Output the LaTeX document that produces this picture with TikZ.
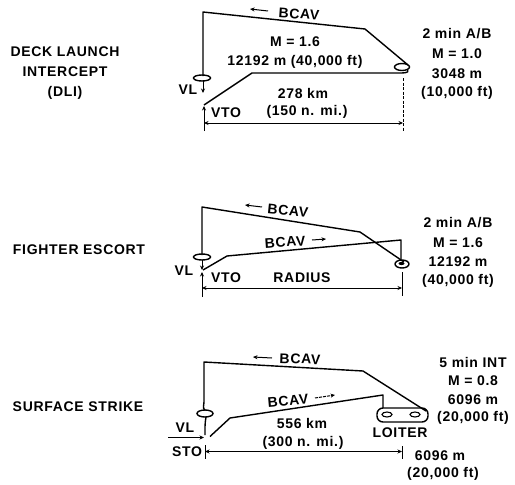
\documentclass[tikz,border=0pt]{standalone}
\usepackage{fontspec}
\setmainfont{Liberation Sans}[LetterSpace=5]
\usetikzlibrary{arrows.meta,shapes.geometric}
\tikzset{
  path/.style={line width=1.4pt, line join=round},
  thin/.style={line width=1pt},
  lbl/.style={font=\bfseries\fontsize{14}{20}\selectfont, inner sep=0pt},
  arr/.style={line width=1pt, -{Stealth[length=4.5pt,width=4pt]}},
  dim/.style={line width=1pt, {Stealth[length=4.5pt,width=4pt]}-{Stealth[length=4.5pt,width=4pt]}},
  loopy/.style={line width=1.4pt}
}
\begin{document}
\begin{tikzpicture}[x=1pt,y=-1pt]
\useasboundingbox (0,0) rectangle (515,485);
% ---------------- Panel 1 : DLI ----------------
\node[lbl, align=center] (t1) at (65,73) {DECK LAUNCH\\INTERCEPT\\(DLI)};
\coordinate (a1) at (203,12);
\coordinate (a2) at (365,29);
\coordinate (a3) at (408,65);
\coordinate (a4) at (204,105);
\coordinate (a5) at (252,73);
\coordinate (a6) at (399,73);
\node[draw, loopy, ellipse, minimum width=15pt, minimum height=7pt, inner sep=0pt] (r1) at (402,67) {};
\node[draw, loopy, ellipse, minimum width=17pt, minimum height=6pt, inner sep=0pt] (l1) at (202,78) {};
\draw[path] (203,76) -- (a1) -- (a2) -- (a3);
\draw[path] (a4) -- (a5) -- (a6) to[out=0,in=-60] (r1.south east);
\coordinate (vl1a) at (203,81);
\coordinate (vl1b) at (203,93);
\draw[arr] (vl1a) -- (vl1b);
\coordinate (vto1a) at (204,131);
\coordinate (vto1b) at (204,106);
\draw[arr] (vto1a) -- (vto1b);
\node[lbl] (vl1) at (188,90) {VL};
\node[lbl, anchor=west] (vto1) at (211,113) {VTO};
\coordinate (d1a) at (204,123);
\coordinate (d1b) at (403,123);
\draw[dim] (d1a) -- (d1b);
\coordinate (tk1a) at (403,78);
\coordinate (tk1b) at (403,131);
\draw[thin, dashed, dash pattern=on 3pt off 1.5pt] (tk1a) -- (tk1b);
\coordinate (b1a) at (268,11);
\coordinate (b1b) at (250,9);
\draw[arr] (b1a) -- (b1b);
\node[lbl, rotate=-4] (bc1) at (299,14) {BCAV};
\node[lbl] (m1) at (295,42) {M = 1.6};
\node[lbl] (h1) at (295,62) {12192 m (40,000 ft)};
\node[lbl] (k1) at (303,93) {278 km};
\node[lbl] (n1) at (307,112) {(150 n. mi.)};
\node[lbl] (q1) at (457,34) {2 min A/B};
\node[lbl] (q2) at (457,54) {M = 1.0};
\node[lbl] (q3) at (457,74) {3048 m};
\node[lbl] (q4) at (457,93) {(10,000 ft)};
% ---------------- Panel 2 : Fighter escort ----------------
\node[lbl] (t2) at (79,250) {FIGHTER ESCORT};
\coordinate (c1) at (202,207);
\coordinate (c2) at (360,232);
\coordinate (c3) at (404,262);
\coordinate (c4) at (203,270);
\coordinate (c5) at (227,256);
\coordinate (c6) at (401,240);
\coordinate (c7) at (401,259);
\node[draw, loopy, ellipse, minimum width=14pt, minimum height=8pt, inner sep=0pt] (r2) at (402,264) {};
\fill (401.5,263.5) ellipse [x radius=3pt, y radius=1.6pt];
\node[draw, loopy, ellipse, minimum width=17pt, minimum height=6pt, inner sep=0pt] (l2) at (202,257) {};
\draw[path] (202,255) -- (c1) -- (c2) -- (c3);
\draw[path] (c4) -- (c5) -- (c6) -- (c7);
\coordinate (vl2a) at (202,260);
\coordinate (vl2b) at (202,270);
\draw[arr] (vl2a) -- (vl2b);
\coordinate (vto2a) at (202,297);
\coordinate (vto2b) at (202,272);
\draw[arr] (vto2a) -- (vto2b);
\node[lbl] (vl2) at (184,271) {VL};
\node[lbl, anchor=west] (vto2) at (211,278) {VTO};
\node[lbl] (rad) at (302,278) {RADIUS};
\coordinate (d2a) at (202,288);
\coordinate (d2b) at (402,288);
\draw[dim] (d2a) -- (d2b);
\coordinate (tk2a) at (402,272);
\coordinate (tk2b) at (402,296);
\draw[thin] (tk2a) -- (tk2b);
\coordinate (b2a) at (262,207);
\coordinate (b2b) at (245,205);
\draw[arr] (b2a) -- (b2b);
\node[lbl, rotate=-6] (bc2) at (288,211) {BCAV};
\node[lbl, rotate=4] (bc3) at (285,242) {BCAV};
\coordinate (b3a) at (312,240);
\coordinate (b3b) at (326,239);
\draw[arr] (b3a) -- (b3b);
\node[lbl] (s1) at (458,223) {2 min A/B};
\node[lbl] (s2) at (458,243) {M = 1.6};
\node[lbl] (s3) at (458,262) {12192 m};
\node[lbl] (s4) at (458,281) {(40,000 ft)};
% ---------------- Panel 3 : Surface strike ----------------
\node[lbl] (t3) at (78,407) {SURFACE STRIKE};
\coordinate (e1) at (204,362);
\coordinate (e2) at (363,371);
\coordinate (e3) at (426,411);
\coordinate (e4) at (210,436.5);
\coordinate (e5) at (230,418);
\coordinate (e6) at (383,395);
\coordinate (e7) at (383,408);
\draw[loopy, rounded corners=6pt] (377,408) rectangle (428,422);
\node[draw, line width=1.1pt, ellipse, minimum width=10pt, minimum height=5pt, inner sep=0pt] (lo1) at (387,414.5) {};
\node[draw, line width=1.1pt, ellipse, minimum width=10pt, minimum height=5pt, inner sep=0pt] (lo2) at (415,414.5) {};
\node[draw, loopy, ellipse, minimum width=16pt, minimum height=7pt, inner sep=0pt] (l3) at (205,413.5) {};
\draw[path] (205,410) to[out=150,in=-90] (204,402) -- (e1) -- (e2) -- (e3);
\draw[path] (e4) -- (e5) -- (e6) -- (e7);
\coordinate (vl3c) at (205,435);
\draw[path] (206,417) to[out=-100,in=90] (vl3c);
\coordinate (vl3a) at (168,437.5);
\coordinate (vl3b) at (204,437.5);
\draw[arr] (vl3a) -- (vl3b);
\node[lbl] (vl3) at (185,428) {VL};
\node[lbl] (sto) at (187,452) {STO};
\coordinate (d3a) at (205,451.5);
\coordinate (d3b) at (402,451.5);
\draw[dim] (d3a) -- (d3b);
\coordinate (tk3a) at (205,445);
\coordinate (tk3b) at (205,458.5);
\draw[thin] (tk3a) -- (tk3b);
\coordinate (tk3c) at (402,446);
\coordinate (tk3d) at (402,458.5);
\draw[thin] (tk3c) -- (tk3d);
\coordinate (b4a) at (272,358);
\coordinate (b4b) at (253,357);
\draw[arr] (b4a) -- (b4b);
\node[lbl, rotate=-2] (bc4) at (300,359) {BCAV};
\node[lbl, rotate=5] (bc5) at (288,401) {BCAV};
\coordinate (b5a) at (315,398);
\coordinate (b5b) at (335,395);
\draw[arr, dashed, dash pattern=on 3pt off 1pt] (b5a) -- (b5b);
\node[lbl] (k3) at (302,423) {556 km};
\node[lbl] (n3) at (303,443) {(300 n. mi.)};
\node[lbl] (loit) at (400,433) {LOITER};
\node[lbl] (u1) at (473,362) {5 min INT};
\node[lbl] (u2) at (473,381) {M = 0.8};
\node[lbl] (u3) at (473,400) {6096 m};
\node[lbl] (u4) at (473,418) {(20,000 ft)};
\node[lbl] (w1) at (440,456) {6096 m};
\node[lbl] (w2) at (443,474) {(20,000 ft)};
\end{tikzpicture}
\end{document}
